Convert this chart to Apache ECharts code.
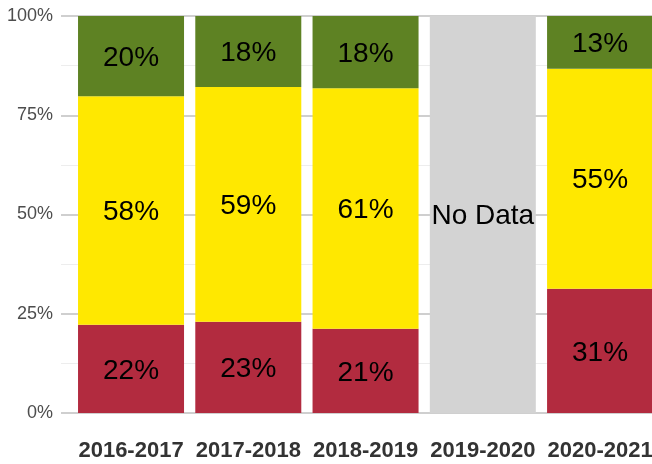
<!DOCTYPE html>
<html>
<head>
<meta charset="utf-8">
<script src="https://cdn.jsdelivr.net/npm/echarts@6/dist/echarts.min.js"></script>
<style>
  html, body { margin: 0; padding: 0; background: #fff; overflow: hidden; }
  #chart { width: 660px; height: 464px; }
</style>
</head>
<body>
<div id="chart"></div>
<script>
// school years on the x axis
const years = ['2016-2017', '2017-2018', '2018-2019', '2019-2020', '2020-2021'];
// shares per year, bottom to top (null = no data that year)
const redShare = [22.2, 23.0, 21.2, null, 31.3];
const yellowShare = [57.6, 59.1, 60.6, null, 55.4];
const greenShare = [20.2, 17.9, 18.2, null, 13.3];
const noDataShare = [null, null, null, 100, null];
const yTicks = [0, 25, 50, 75, 100];

const chart = echarts.init(document.getElementById('chart'));

const pctLabel = {
  show: true,
  position: 'inside',
  offset: [0, 2],
  color: '#000',
  fontSize: 28,
  fontFamily: 'Liberation Sans',
  formatter: p => Math.round(p.value) + '%'
};

function seg(name, data, color) {
  return {
    name: name,
    type: 'bar',
    stack: 'all',
    xAxisIndex: 1,
    yAxisIndex: 1,
    barWidth: '90.4%',
    data: data,
    itemStyle: { color: color },
    label: pctLabel
  };
}

chart.setOption({
  animation: false,
  grid: [
    { left: 61, right: 8, top: 16, bottom: 51 },
    { left: 72.4, width: 586.3, top: 16, bottom: 51 }
  ],
  xAxis: [
    { type: 'category', gridIndex: 0, data: years, show: false },
    {
      type: 'category',
      gridIndex: 1,
      data: years,
      axisLine: { show: false },
      axisTick: { show: false },
      axisLabel: {
        interval: 0,
        color: '#333',
        fontSize: 22,
        fontWeight: 'bold',
        fontFamily: 'Liberation Sans',
        margin: 27
      }
    }
  ],
  yAxis: [
    {
      type: 'value',
      gridIndex: 0,
      min: 0,
      max: 100,
      interval: 25,
      axisLine: { show: false },
      axisTick: { show: false },
      axisLabel: {
        color: '#4d4d4d',
        fontSize: 18,
        fontFamily: 'Liberation Sans',
        margin: 8,
        formatter: v => (yTicks.includes(v) ? v + '%' : '')
      },
      splitLine: { lineStyle: { color: '#cfcfcf', width: 2 } },
      minorTick: { show: false, splitNumber: 2 },
      minorSplitLine: { show: true, lineStyle: { color: '#ededed', width: 1 } }
    },
    { type: 'value', gridIndex: 1, min: 0, max: 100, show: false }
  ],
  series: [
    seg('red', redShare, '#b22b3f'),
    seg('yellow', yellowShare, '#ffe800'),
    seg('green', greenShare, '#5e8223'),
    {
      name: 'no data',
      type: 'bar',
      stack: 'all',
      xAxisIndex: 1,
      yAxisIndex: 1,
      barWidth: '90.4%',
      data: noDataShare,
      itemStyle: { color: '#d3d3d3' },
      label: Object.assign({}, pctLabel, { formatter: 'No Data' })
    }
  ]
});
</script>
</body>
</html>
